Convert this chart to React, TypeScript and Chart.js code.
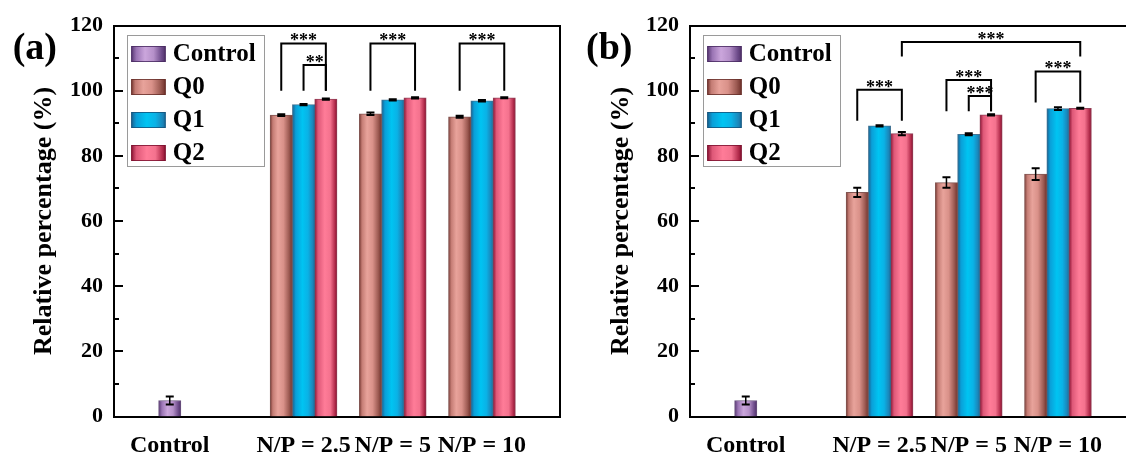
import React, { useEffect, useRef } from "react";
import { Chart, registerables } from "chart.js";

Chart.register(...registerables);

const FONT = "'Liberation Serif', 'Times New Roman', Times, serif";

// ---------- data ----------
const categories = ["Control", "N/P = 2.5", "N/P = 5", "N/P = 10"];
const categoryX = [0, 1.5, 2.5, 3.5];
const seriesNames = ["Control", "Q0", "Q1", "Q2"];
const yTickValues = [0, 20, 40, 60, 80, 100, 120];

// panel (a)
const controlA = [4.9];
const controlErrA = [1.2];
const q0A = [92.5, 92.9, 92.0];
const q0ErrA = [0.3, 0.4, 0.3];
const q1A = [95.7, 97.2, 96.9];
const q1ErrA = [0.2, 0.2, 0.2];
const q2A = [97.4, 97.8, 97.8];
const q2ErrA = [0.2, 0.2, 0.15];

// panel (b)
const controlB = [4.9];
const controlErrB = [1.2];
const q0B = [68.8, 71.8, 74.4];
const q0ErrB = [1.4, 1.6, 1.8];
const q1B = [89.2, 86.6, 94.5];
const q1ErrB = [0.2, 0.3, 0.4];
const q2B = [86.8, 92.6, 94.6];
const q2ErrB = [0.5, 0.2, 0.15];

// significance brackets: [fromCategory, fromSeries, toCategory, toSeries, top, leftFoot, rightFoot, label]
const sigA: [number, number, number, number, number, number, number, string][] = [
  [1, 1, 1, 3, 114.5, 100, 100, "***"],
  [1, 2, 1, 3, 107.9, 100, 100, "**"],
  [2, 1, 2, 3, 114.5, 100, 100, "***"],
  [3, 1, 3, 3, 114.5, 100, 100, "***"],
];
const sigB: [number, number, number, number, number, number, number, string][] = [
  [1, 3, 3, 3, 114.9, 110.5, 110.5, "***"],
  [1, 1, 1, 3, 100.3, 90.8, 90.8, "***"],
  [2, 1, 2, 3, 103.3, 93.7, 93.7, "***"],
  [2, 2, 2, 3, 98.4, 93.7, 93.7, "***"],
  [3, 1, 3, 3, 105.9, 96.4, 96.4, "***"],
];

// ---------- style ----------
const seriesOffset = [0, -0.25, 0, 0.25];
const barUnits = 0.25;
const solid = ["#a57dbd", "#c77d75", "#10aee0", "#e8587a"];
const edge = ["rgba(70,40,95,0.8)", "rgba(100,45,40,0.8)", "rgba(20,80,120,0.8)", "rgba(120,15,45,0.8)"];
const stops: [number, string][][] = [
  [[0, "#553670"], [0.15, "#9a74b4"], [0.4, "#cba6dc"], [0.65, "#b590c9"], [0.88, "#6e4c8b"], [1, "#4f3068"]],
  [[0, "#743630"], [0.12, "#c47c74"], [0.35, "#e8a39b"], [0.6, "#d99189"], [0.85, "#9c5a52"], [1, "#6e302a"]],
  [[0, "#1a5d8c"], [0.15, "#0a9fd8"], [0.45, "#00c4f2"], [0.7, "#0ab2e6"], [0.9, "#1a88bc"], [1, "#1a6a9a"]],
  [[0, "#8a1232"], [0.15, "#de5878"], [0.45, "#ff7c98"], [0.7, "#f4728e"], [0.9, "#b52e4e"], [1, "#86102e"]],
];

const xOf = (cat: number, s: number) => categoryX[cat] + seriesOffset[s];

function gradientFor(chart: any, s: number, x0: number, x1: number) {
  const g = chart.ctx.createLinearGradient(x0, 0, x1, 0);
  stops[s].forEach(([o, c]) => g.addColorStop(o, c));
  return g;
}

type PanelProps = {
  label: string;
  values: number[][];
  errors: number[][];
  sig: [number, number, number, number, number, number, number, string][];
  left: number;
  width: number;
  areaLeft: number;
  padRight: number;
  titlePad: number;
  labelX: number;
};

function Panel(p: PanelProps) {
  const ref = useRef<HTMLCanvasElement | null>(null);

  useEffect(() => {
    const canvas = ref.current;
    if (!canvas) return;

    const errorBars = {
      id: "errorBars",
      afterDatasetsDraw(chart: any) {
        const { ctx } = chart;
        const xs = chart.scales.x;
        const ys = chart.scales.y;
        ctx.save();
        ctx.strokeStyle = "#000";
        chart.data.datasets.forEach((ds: any, s: number) => {
          ds.data.forEach((pt: any, i: number) => {
            const e = p.errors[s][i];
            const px = xs.getPixelForValue(pt.x);
            const top = ys.getPixelForValue(pt.y + e);
            const bot = ys.getPixelForValue(pt.y - e);
            ctx.lineWidth = 1.5;
            ctx.beginPath();
            ctx.moveTo(px, top);
            ctx.lineTo(px, bot);
            ctx.stroke();
            ctx.lineWidth = 2;
            ctx.beginPath();
            ctx.moveTo(px - 4, top);
            ctx.lineTo(px + 4, top);
            ctx.moveTo(px - 4, bot);
            ctx.lineTo(px + 4, bot);
            ctx.stroke();
          });
        });
        ctx.restore();
      },
    };

    const decorations = {
      id: "decorations",
      afterDraw(chart: any) {
        const { ctx, chartArea } = chart;
        const xs = chart.scales.x;
        const ys = chart.scales.y;
        ctx.save();
        // inward y ticks
        ctx.strokeStyle = "#000";
        ys.ticks.forEach((t: any) => {
          const major = yTickValues.includes(t.value);
          const py = Math.round(ys.getPixelForValue(t.value));
          ctx.lineWidth = 2;
          ctx.beginPath();
          ctx.moveTo(chartArea.left, py);
          ctx.lineTo(chartArea.left + (major ? 9 : 5), py);
          ctx.stroke();
        });
        // significance brackets
        ctx.lineWidth = 2;
        ctx.fillStyle = "#000";
        ctx.font = `bold 18px ${FONT}`;
        ctx.textAlign = "center";
        ctx.textBaseline = "alphabetic";
        p.sig.forEach(([c1, s1, c2, s2, top, f1, f2, txt]) => {
          const x1 = xs.getPixelForValue(xOf(c1, s1));
          const x2 = xs.getPixelForValue(xOf(c2, s2));
          const yt = ys.getPixelForValue(top);
          ctx.beginPath();
          ctx.moveTo(x1, ys.getPixelForValue(f1));
          ctx.lineTo(x1, yt);
          ctx.lineTo(x2, yt);
          ctx.lineTo(x2, ys.getPixelForValue(f2));
          ctx.stroke();
          ctx.fillText(txt, (x1 + x2) / 2, yt + 3);
        });
        // legend
        const lx = chartArea.left + 12.7;
        const ly = chartArea.top + 9.5;
        ctx.lineWidth = 1;
        ctx.strokeStyle = "#9a9a9a";
        ctx.strokeRect(Math.round(lx) + 0.5, Math.round(ly) + 0.5, 137, 131);
        ctx.font = `bold 25px ${FONT}`;
        ctx.textAlign = "left";
        ctx.textBaseline = "middle";
        chart.data.datasets.forEach((ds: any, s: number) => {
          const cy = ly + 19 + 33 * s;
          const sx = lx + 4.5;
          ctx.fillStyle = gradientFor(chart, s, sx, sx + 34.5);
          ctx.fillRect(sx, cy - 8, 34.5, 16);
          ctx.strokeStyle = edge[s];
          ctx.strokeRect(sx + 0.5, cy - 7.5, 33.5, 15);
          ctx.fillStyle = "#000";
          ctx.fillText(ds.label, lx + 46, cy + 1);
        });
        // panel label
        ctx.font = `bold 38px ${FONT}`;
        ctx.fillText(p.label, p.labelX, 49);
        ctx.restore();
      },
    };

    const tickFont = { family: FONT, size: 22, weight: "bold" as const };

    const chart = new Chart(canvas, {
      type: "bar",
      data: {
        datasets: seriesNames.map((name, s) => ({
          label: name,
          data: p.values[s].map((v, i) => ({
            x: s === 0 ? categoryX[0] : xOf(i + 1, s),
            y: v,
          })),
          backgroundColor: (ctx: any) => {
            if (ctx.type !== "data" || !ctx.chart.chartArea) return solid[s];
            const xs = ctx.chart.scales.x;
            const c = xs.getPixelForValue(ctx.raw.x);
            const half = (xs.getPixelForValue(barUnits) - xs.getPixelForValue(0)) / 2;
            return gradientFor(ctx.chart, s, c - half, c + half);
          },
          borderColor: edge[s],
          borderWidth: 1,
          grouped: false,
          categoryPercentage: 1,
          barPercentage: 1,
        })) as any,
      },
      options: {
        responsive: false,
        animation: false,
        devicePixelRatio: 1,
        layout: { padding: { top: 25.5, right: p.padRight, left: 0, bottom: 0 } },
        plugins: { legend: { display: false }, tooltip: { enabled: false } },
        scales: {
          x: {
            type: "linear",
            position: "bottom",
            min: -0.625,
            max: 4.375,
            offset: false,
            grid: { display: false, drawTicks: false },
            border: { display: true, color: "#000", width: 2 },
            afterBuildTicks: (sc: any) => {
              sc.ticks = categoryX.map((v) => ({ value: v }));
            },
            afterFit: (sc: any) => {
              sc.height = 38.5;
            },
            ticks: {
              autoSkip: false,
              maxRotation: 0,
              minRotation: 0,
              padding: 17.5,
              color: "#000",
              font: { family: FONT, size: 24, weight: "bold", lineHeight: 1 },
              callback: (_v: any, i: number) => categories[i],
            },
          },
          y: {
            type: "linear",
            position: "left",
            min: 0,
            max: 120,
            grid: { display: false, drawTicks: false },
            border: { display: true, color: "#000", width: 2 },
            afterFit: (sc: any) => {
              sc.width = p.areaLeft;
            },
            ticks: {
              stepSize: 10,
              padding: 11,
              color: "#000",
              font: tickFont,
              callback: (v: any) => (yTickValues.includes(Number(v)) ? String(v) : ""),
            },
            title: {
              display: true,
              text: "Relative percentage (%)",
              color: "#000",
              font: { family: FONT, size: 26, weight: "bold", lineHeight: 1 },
              padding: { top: p.titlePad, bottom: 0 },
            },
          },
          xTop: {
            type: "linear",
            position: "top",
            display: true,
            grid: { display: false, drawTicks: false },
            ticks: { display: false },
            border: { display: true, color: "#000", width: 2 },
            afterFit: (sc: any) => {
              sc.height = 0;
            },
          },
          yRight: {
            type: "linear",
            position: "right",
            display: true,
            grid: { display: false, drawTicks: false },
            ticks: { display: false },
            border: { display: true, color: "#000", width: 2 },
            afterFit: (sc: any) => {
              sc.width = 0;
            },
          },
        },
      } as any,
      plugins: [errorBars, decorations],
    });

    return () => chart.destroy();
  }, []);

  return (
    <canvas
      ref={ref}
      width={p.width}
      height={455}
      style={{ position: "absolute", left: p.left, top: 0, width: p.width, height: 455, display: "block" }}
    />
  );
}

export default function App() {
  return (
    <div
      style={{
        position: "absolute",
        left: 0,
        top: 0,
        width: 1126,
        height: 455,
        overflow: "hidden",
        background: "#fff",
      }}
    >
      <Panel
        label="(a)"
        values={[controlA, q0A, q1A, q2A]}
        errors={[controlErrA, q0ErrA, q1ErrA, q2ErrA]}
        sig={sigA}
        left={0}
        width={563}
        areaLeft={114}
        padRight={3}
        titlePad={31}
        labelX={12.7}
      />
      <Panel
        label="(b)"
        values={[controlB, q0B, q1B, q2B]}
        errors={[controlErrB, q0ErrB, q1ErrB, q2ErrB]}
        sig={sigB}
        left={565}
        width={600}
        areaLeft={125}
        padRight={29}
        titlePad={43}
        labelX={21}
      />
    </div>
  );
}
